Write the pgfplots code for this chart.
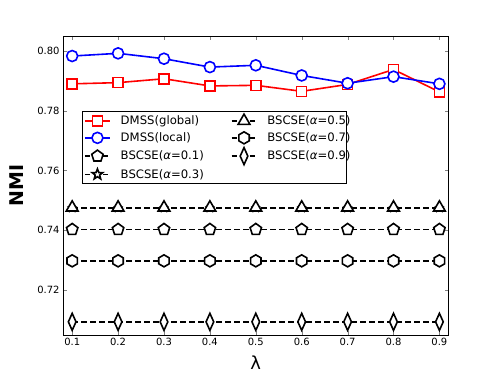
\documentclass[border=0pt]{standalone}
\usepackage{fontspec}
\setmainfont{DejaVu Sans}
\usepackage{pgfplots}
\pgfplotsset{compat=1.18}
\usetikzlibrary{plotmarks}
\pgfdeclareplotmark{hexagon}{%
  \pgfpathmoveto{\pgfpointpolar{90}{\pgfplotmarksize}}%
  \pgfpathlineto{\pgfpointpolar{150}{\pgfplotmarksize}}%
  \pgfpathlineto{\pgfpointpolar{210}{\pgfplotmarksize}}%
  \pgfpathlineto{\pgfpointpolar{270}{\pgfplotmarksize}}%
  \pgfpathlineto{\pgfpointpolar{330}{\pgfplotmarksize}}%
  \pgfpathlineto{\pgfpointpolar{30}{\pgfplotmarksize}}%
  \pgfpathclose
  \pgfusepathqfillstroke}
\pgfdeclareplotmark{ostar}{%
  \pgfpathmoveto{\pgfpointpolar{90}{\pgfplotmarksize}}%
  \pgfpathlineto{\pgfpointpolar{126}{0.42\pgfplotmarksize}}%
  \pgfpathlineto{\pgfpointpolar{162}{\pgfplotmarksize}}%
  \pgfpathlineto{\pgfpointpolar{198}{0.42\pgfplotmarksize}}%
  \pgfpathlineto{\pgfpointpolar{234}{\pgfplotmarksize}}%
  \pgfpathlineto{\pgfpointpolar{270}{0.42\pgfplotmarksize}}%
  \pgfpathlineto{\pgfpointpolar{306}{\pgfplotmarksize}}%
  \pgfpathlineto{\pgfpointpolar{342}{0.42\pgfplotmarksize}}%
  \pgfpathlineto{\pgfpointpolar{18}{\pgfplotmarksize}}%
  \pgfpathlineto{\pgfpointpolar{54}{0.42\pgfplotmarksize}}%
  \pgfpathclose
  \pgfusepathqfillstroke}
\tikzset{
  sglobal/.style={red, line width=1.6bp, mark=square*, mark size=5bp, mark options={solid, fill=white, draw=red, line width=1.6bp}},
  slocal/.style={blue, line width=1.6bp, mark=*, mark size=5.5bp, mark options={solid, fill=white, draw=blue, line width=1.6bp}},
  sblack/.style={black, line width=1.6bp, dash pattern=on 5.5bp off 3.5bp},
  sa1/.style={sblack, mark=pentagon*, mark size=6bp, mark options={solid, fill=white, draw=black, line width=1.6bp}},
  sa3/.style={sblack, mark=ostar, mark size=5.5bp, mark options={solid, fill=white, draw=black, line width=1.6bp}},
  sa3plot/.style={sblack, mark=ostar, mark size=3.5bp, mark options={solid, fill=white, draw=black, line width=1.4bp}},
  sa5/.style={sblack, mark=triangle*, mark size=6.8bp, mark options={solid, fill=white, draw=black, line width=1.6bp}},
  sa7/.style={sblack, mark=hexagon, mark size=6bp, mark options={solid, fill=white, draw=black, line width=1.6bp}},
  sa9/.style={sblack, mark=diamond*, mark size=8.5bp, mark options={solid, fill=white, draw=black, line width=1.6bp, xscale=0.6}},
}
\newcommand{\la}[1]{\makebox[108bp][l]{#1}}
\newcommand{\lb}[1]{\makebox[75.5bp][l]{#1}}
\begin{document}
\begin{tikzpicture}
\useasboundingbox (-63bp,-39bp) rectangle (435bp,335bp);
\begin{axis}[
  scale only axis,
  width=385.6bp, height=299bp,
  xmin=0.08, xmax=0.92,
  ymin=0.705, ymax=0.805,
  xtick={0.1,0.2,0.3,0.4,0.5,0.6,0.7,0.8,0.9},
  ytick={0.72,0.74,0.76,0.78,0.80},
  xticklabel style={/pgf/number format/.cd, fixed, precision=1},
  yticklabel style={/pgf/number format/.cd, fixed, fixed zerofill, precision=2},
  /pgf/number format/assume math mode=true,
  tick label style={font=\fontsize{10}{12}\selectfont},
  tick align=inside,
  major tick length=4bp,
  axis line style={line width=0.8bp},
  xlabel={λ},
  ylabel={\bfseries NMI},
  xlabel style={font=\fontsize{18}{22}\selectfont, at={(axis description cs:0.5,0)}, anchor=center, yshift=-28bp},
  ylabel style={font=\fontsize{19}{22}\selectfont, at={(axis description cs:-0.1206,0.5)}, anchor=center},
  legend style={at={(axis description cs:0.0486,0.748)}, anchor=north west, font=\fontsize{11.7}{14}\selectfont, draw=black, line width=0.8bp, inner sep=2bp, row sep=2.6bp,
    /tikz/every odd column/.append style={column sep=8bp}},
  legend columns=2,
  legend cell align=left,
  legend image code/.code={\draw[mark repeat=2,mark phase=2] plot coordinates {(0bp,0bp)(12.5bp,0bp)(25bp,0bp)};},
]
\addplot[sglobal, forget plot] coordinates {(0.1,0.7890)(0.2,0.7894)(0.3,0.7907)(0.4,0.7883)(0.5,0.7885)(0.6,0.7865)(0.7,0.7888)(0.8,0.7938)(0.9,0.7863)};
\addplot[slocal, forget plot] coordinates {(0.1,0.7983)(0.2,0.7992)(0.3,0.7974)(0.4,0.7946)(0.5,0.7952)(0.6,0.7918)(0.7,0.7892)(0.8,0.7914)(0.9,0.7890)};
\addplot[sa1, forget plot] coordinates {(0.1,0.7403)(0.2,0.7403)(0.3,0.7403)(0.4,0.7403)(0.5,0.7403)(0.6,0.7403)(0.7,0.7403)(0.8,0.7403)(0.9,0.7403)};
\addplot[sa3plot, forget plot] coordinates {(0.1,0.7474)(0.2,0.7474)(0.3,0.7474)(0.4,0.7474)(0.5,0.7474)(0.6,0.7474)(0.7,0.7474)(0.8,0.7474)(0.9,0.7474)};
\addplot[sa5, forget plot] coordinates {(0.1,0.7476)(0.2,0.7476)(0.3,0.7476)(0.4,0.7476)(0.5,0.7476)(0.6,0.7476)(0.7,0.7476)(0.8,0.7476)(0.9,0.7476)};
\addplot[sa7, forget plot] coordinates {(0.1,0.7298)(0.2,0.7298)(0.3,0.7298)(0.4,0.7298)(0.5,0.7298)(0.6,0.7298)(0.7,0.7298)(0.8,0.7298)(0.9,0.7298)};
\addplot[sa9, forget plot] coordinates {(0.1,0.7094)(0.2,0.7094)(0.3,0.7094)(0.4,0.7094)(0.5,0.7094)(0.6,0.7094)(0.7,0.7094)(0.8,0.7094)(0.9,0.7094)};
\addlegendimage{sglobal}\addlegendentry{\la{DMSS(global)}}
\addlegendimage{sa5}\addlegendentry{\lb{BSCSE({\itshape α}=0.5)}}
\addlegendimage{slocal}\addlegendentry{\la{DMSS(local)}}
\addlegendimage{sa7}\addlegendentry{\lb{BSCSE({\itshape α}=0.7)}}
\addlegendimage{sa1}\addlegendentry{\la{BSCSE({\itshape α}=0.1)}}
\addlegendimage{sa9}\addlegendentry{\lb{BSCSE({\itshape α}=0.9)}}
\addlegendimage{sa3}\addlegendentry{\la{BSCSE({\itshape α}=0.3)}}
\end{axis}
\end{tikzpicture}
\end{document}
